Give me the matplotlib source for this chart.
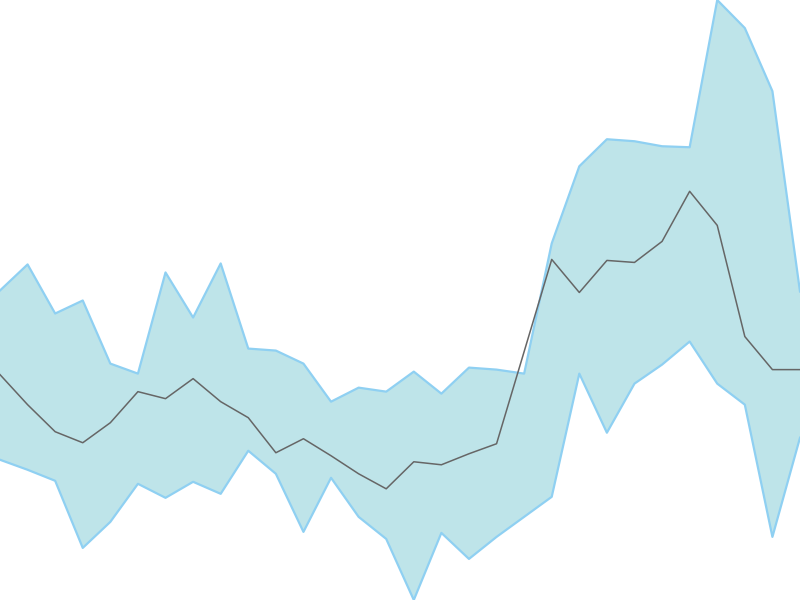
import numpy as np
import matplotlib
matplotlib.use("Agg")
import matplotlib.pyplot as plt

# bande haute / basse et ligne centrale
haut = [31.0, 33.6, 28.7, 30.0, 23.7, 22.7, 32.8, 28.3, 33.7, 25.2,
        25.0, 23.7, 19.9, 21.3, 20.9, 22.9, 20.7, 23.3, 23.1, 22.7,
        35.7, 43.4, 46.1, 45.9, 45.4, 45.3, 60.0, 57.2, 50.9, 30.9]
milieu = [22.6, 19.6, 16.9, 15.8, 17.8, 20.9, 20.2, 22.2, 19.9, 18.3,
          14.8, 16.2, 14.5, 12.7, 11.2, 13.9, 13.6, 14.7, 15.7, 24.9,
          34.1, 30.8, 34.0, 33.8, 35.9, 40.9, 37.5, 26.4, 23.1, 23.1]
bas = [14.1, 13.1, 12.0, 5.3, 7.9, 11.7, 10.3, 11.9, 10.7, 15.0,
       12.7, 6.9, 12.3, 8.4, 6.2, 0.1, 6.8, 4.2, 6.4, 8.4,
       10.4, 22.7, 16.8, 21.7, 23.6, 25.9, 21.7, 19.6, 6.4, 16.3]

x = np.arange(len(milieu))

fig = plt.figure(figsize=(8, 6), dpi=100)
ax = fig.add_axes([0, 0, 1, 1])

ax.fill_between(x, bas, haut, color="#bee4e9", linewidth=0)
ax.plot(x, haut, color="#8fd0f2", linewidth=1.6)
ax.plot(x, bas, color="#8fd0f2", linewidth=1.6)
ax.plot(x, milieu, color="#666666", linewidth=1.1)

ax.set_xlim(x[0], x[-1])
ax.set_ylim(min(bas), max(haut))
ax.axis("off")

fig.savefig("out.png", dpi=100)
